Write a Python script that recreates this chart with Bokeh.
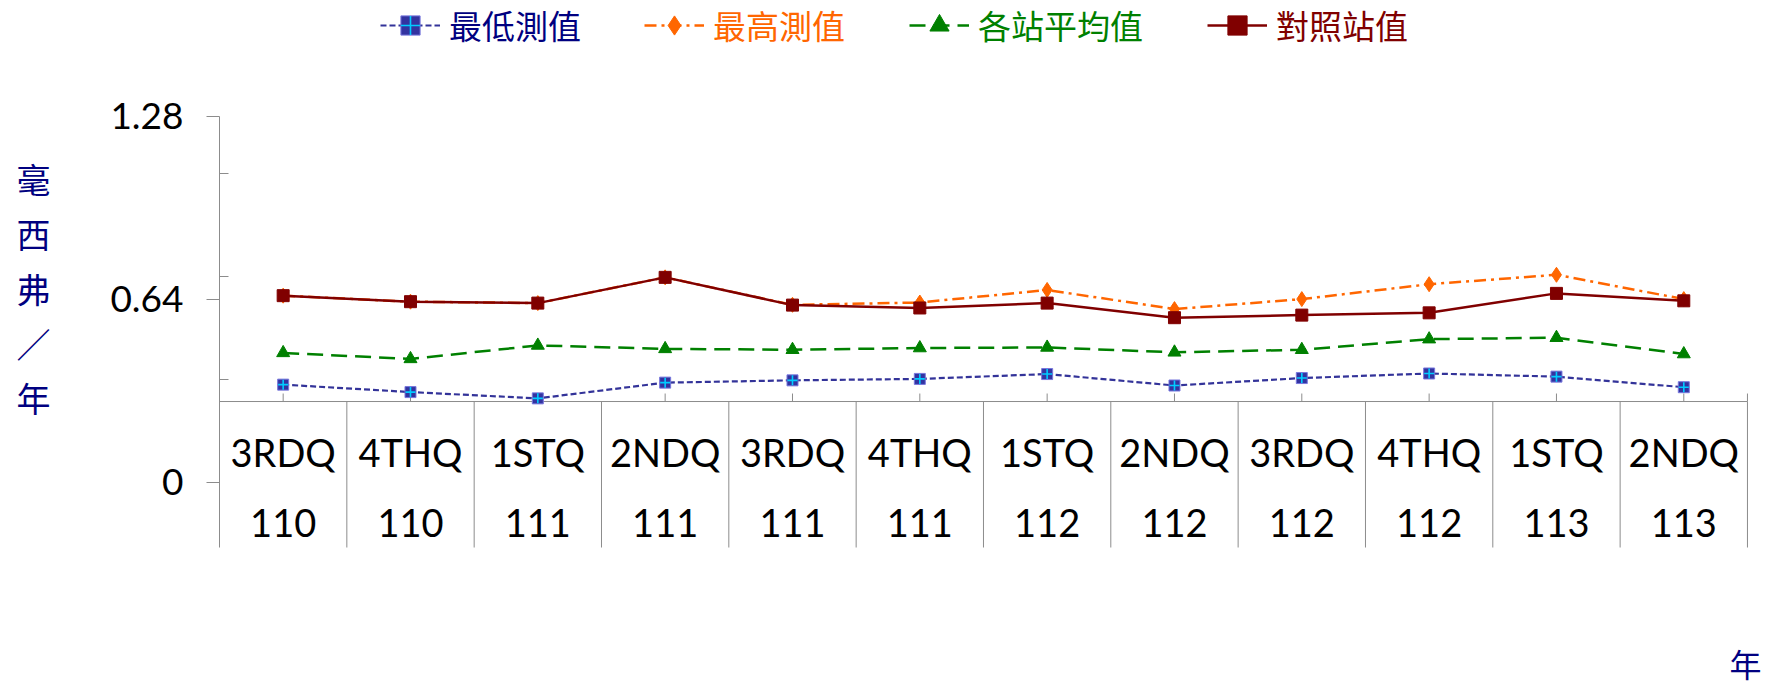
from bokeh.plotting import figure
from bokeh.models import (Range1d, LinearAxis, FixedTicker, Legend, LegendItem,
                          Label, ColumnDataSource)
from bokeh.embed import file_html
from bokeh.resources import INLINE

# ---------------- data ----------------
quarters = ["3RDQ", "4THQ", "1STQ", "2NDQ", "3RDQ", "4THQ",
            "1STQ", "2NDQ", "3RDQ", "4THQ", "1STQ", "2NDQ"]
years = ["110", "110", "111", "111", "111", "111",
         "112", "112", "112", "112", "113", "113"]
min_vals = [0.341, 0.315, 0.293, 0.348, 0.356, 0.361,
            0.378, 0.338, 0.364, 0.380, 0.369, 0.332]
max_vals = [0.652, 0.631, 0.626, 0.716, 0.620, 0.628,
            0.672, 0.605, 0.640, 0.692, 0.725, 0.640]
avg_vals = [0.452, 0.431, 0.478, 0.466, 0.463, 0.469,
            0.471, 0.454, 0.463, 0.500, 0.505, 0.448]
ctrl_vals = [0.652, 0.631, 0.626, 0.716, 0.619, 0.609,
             0.626, 0.575, 0.584, 0.592, 0.660, 0.634]
y_major = [0, 0.64, 1.28]
y_minor = [0.36, 0.72, 1.08]
y_title = ["毫", "西", "弗", "／", "年"]
x_title = "年"
names = ["最低測值", "最高測值", "各站平均值", "對照站值"]
axis_cross = 0.282  # value where the category axis crosses the value axis

# ---------------- layout (pixel geometry) ----------------
W, H = 1769, 685
FL = 219                 # value axis position
CAT_W = 127.33           # width of one category
PY_TOP_VAL, PY_ZERO = 115.5, 481.7   # pixel rows of 1.28 and 0
BOX_BOTTOM = 547
n = len(quarters)
S = (PY_ZERO - PY_TOP_VAL) / y_major[-1]

def px2x(px):
    return (px - FL) / CAT_W

def py2y(py):
    return (PY_ZERO - py) / S

p = figure(width=W, height=H, output_backend="svg", toolbar_location=None,
           x_range=Range1d(0, px2x(W)), y_range=Range1d(py2y(H), py2y(0)),
           x_axis_location=None, y_axis_location=None,
           min_border_left=FL, min_border_right=0,
           min_border_top=0, min_border_bottom=0)
p.outline_line_color = None
p.xgrid.visible = False
p.ygrid.visible = False
p.background_fill_color = "white"
p.border_fill_color = "white"

GREY = "#8c8c8c"
NUM_FONT = "Lato"
CJK = "Noto Sans CJK TC"
NAVY = "#000080"

yax = LinearAxis(ticker=FixedTicker(ticks=y_major, minor_ticks=y_minor),
                 bounds=(py2y(BOX_BOTTOM), y_major[-1]))
yax.axis_line_color = GREY
yax.major_tick_line_color = GREY
yax.minor_tick_line_color = GREY
yax.major_tick_out = 13
yax.major_tick_in = 0
yax.minor_tick_out = 0
yax.minor_tick_in = 9
yax.major_label_standoff = 23
yax.major_label_text_font = NUM_FONT
yax.major_label_text_font_size = "37px"
yax.major_label_text_color = "black"
yax.major_label_overrides = {0: "0", 0.64: "0.64", 1.28: "1.28"}
# stacked characters; two blank trailing lines lift the block to its place
yax.axis_label = "\n".join(y_title + [" ", " "])
yax.axis_label_orientation = "horizontal"
yax.axis_label_text_font = CJK
yax.axis_label_text_font_size = "34px"
yax.axis_label_text_font_style = "normal"
yax.axis_label_text_color = NAVY
yax.axis_label_text_line_height = 1.12
yax.axis_label_standoff = 57
p.add_layout(yax, "left")

# category axis (table style)
centers = [i + 0.5 for i in range(n)]
tick_len = 8 / S
p.segment(x0=[0], y0=[axis_cross], x1=[n], y1=[axis_cross], line_color=GREY, line_width=1)
p.segment(x0=centers, y0=[axis_cross] * n, x1=centers, y1=[axis_cross + tick_len] * n,
          line_color=GREY, line_width=1)
bounds = list(range(1, n + 1))
box_bottom = py2y(BOX_BOTTOM)
p.segment(x0=bounds, y0=[axis_cross] * n, x1=bounds, y1=[box_bottom] * n,
          line_color=GREY, line_width=1)
p.segment(x0=[n], y0=[axis_cross], x1=[n], y1=[axis_cross + tick_len],
          line_color=GREY, line_width=1)

src = ColumnDataSource(dict(x=centers, q=quarters, yr=years,
                            yq=[py2y(451)] * n, yy=[py2y(522)] * n))
p.text(x="x", y="yq", text="q", source=src, text_align="center", text_baseline="middle",
       text_font={"value": NUM_FONT}, text_font_size="38px", text_color="black")
p.text(x="x", y="yy", text="yr", source=src, text_align="center", text_baseline="middle",
       text_font={"value": NUM_FONT}, text_font_size="38px", text_color="black")

# ---------------- series ----------------
C_MIN, C_MAX, C_AVG, C_CTRL = "#333399", "#ff6600", "#008000", "#800000"

r_min_l = p.line(centers, min_vals, line_color=C_MIN, line_width=2.2, line_dash="6 3")
r_min_s = p.scatter(centers, min_vals, marker="square", size=11, fill_color="#3333a0",
                    line_color="#7777dd", line_width=1)
r_min_c = p.scatter(centers, min_vals, marker="cross", size=10, line_color="#00ccff",
                    line_width=1.6)

r_max_l = p.line(centers, max_vals, line_color=C_MAX, line_width=2.5, line_dash="12 5 3 5")
r_max_s = p.scatter(centers, max_vals, marker="diamond", size=15, fill_color=C_MAX,
                    line_color=C_MAX)

r_avg_l = p.line(centers, avg_vals, line_color=C_AVG, line_width=2.5, line_dash="16 8")
r_avg_s = p.scatter(centers, avg_vals, marker="triangle", size=13, fill_color=C_AVG,
                    line_color=C_AVG)

r_ctl_l = p.line(centers, ctrl_vals, line_color=C_CTRL, line_width=2.5)
r_ctl_s = p.scatter(centers, ctrl_vals, marker="square", size=12, fill_color=C_CTRL,
                    line_color=C_CTRL)

# ---------------- legends ----------------
LEG_H = 48
LEG_CY = 25

def add_legend(label, renderers, color, gx):
    lg = Legend(items=[LegendItem(label=label, renderers=renderers)],
                location=(gx - FL, H - LEG_CY - LEG_H // 2), orientation="horizontal",
                glyph_width=60, glyph_height=LEG_H, label_height=LEG_H, label_standoff=9,
                padding=0, margin=0, spacing=0,
                background_fill_alpha=0, border_line_alpha=0,
                label_text_color=color, label_text_font=CJK,
                label_text_font_size="33px")
    p.add_layout(lg)

add_legend(names[0], [r_min_l, r_min_s, r_min_c], NAVY, 380)
add_legend(names[1], [r_max_l, r_max_s], C_MAX, 644)
add_legend(names[2], [r_avg_l, r_avg_s], C_AVG, 909)
add_legend(names[3], [r_ctl_l, r_ctl_s], C_CTRL, 1207)

# ---------------- x title ----------------
p.add_layout(Label(x=px2x(1745), y=py2y(662), text=x_title, text_align="center",
                   text_baseline="middle", text_font=CJK, text_font_size="32px",
                   text_color=NAVY))

open("out.html", "w").write(file_html(p, INLINE))
